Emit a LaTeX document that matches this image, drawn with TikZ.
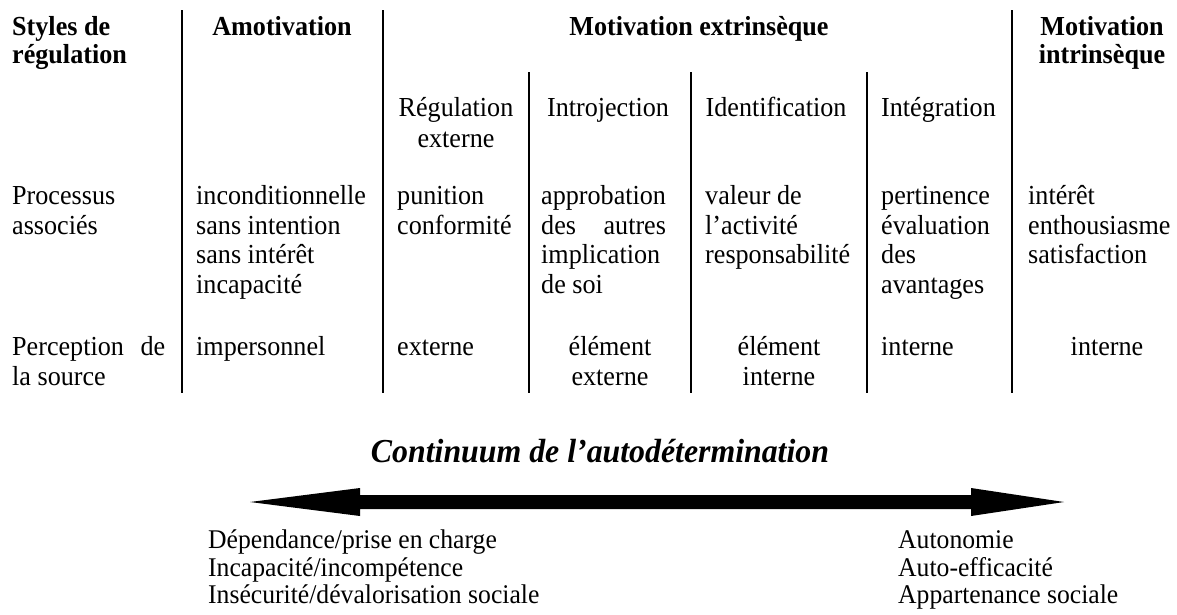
\documentclass[tikz,border=0pt]{standalone}
\usepackage{fontspec}
\setmainfont{Liberation Serif}[FakeStretch=0.95]
\usetikzlibrary{calc}
\newlength\colwd
\begin{document}
\begin{tikzpicture}[x=1pt,y=-1pt,
  txt/.style={inner sep=0pt, anchor=base west, font=\fontsize{27.5}{31}\selectfont},
  ctxt/.style={txt, anchor=base},
  head/.style={txt, font=\fontsize{27.5}{31}\selectfont\bfseries},
  chead/.style={head, anchor=base},
  low/.style={txt, font=\fontsize{27}{30}\selectfont},
  rule/.style={line width=2.6pt}]
\useasboundingbox (0,0) rectangle (1177,614);

% column rules
\foreach \x in {182,383,1012} \draw[rule] (\x,10) -- (\x,393);
\foreach \x in {529,691,867} \draw[rule] (\x,72) -- (\x,393);

% header row
\node[head] (sty1) at (12,35) {Styles de};
\node[head] (sty2) at (12,63) {régulation};
\node[chead] (amo) at (282,35) {Amotivation};
\node[chead] (mext) at (699,35) {Motivation extrinsèque};
\node[chead] (mint1) at (1102,35) {Motivation};
\node[chead] (mint2) at (1102,63) {intrinsèque};

% sub-headers of extrinsic motivation
\node[ctxt] (rex1) at (456,116) {Régulation};
\node[ctxt] (rex2) at (456,147) {externe};
\node[ctxt] (intro) at (608,116) {Introjection};
\node[ctxt] (ident) at (776,116) {Identification};
\node[txt] (integ) at (881,116) {Intégration};

% associated processes
\node[txt] (pa1) at (12,204) {Processus};
\node[txt] (pa2) at (12,234) {associés};
\node[txt] (a1) at (196,204) {inconditionnelle};
\node[txt] (a2) at (196,234) {sans intention};
\node[txt] (a3) at (196,263) {sans intérêt};
\node[txt] (a4) at (196,293) {incapacité};
\node[txt] (b1) at (397,204) {punition};
\node[txt] (b2) at (397,234) {conformité};
\node[txt] (c1) at (541,204) {approbation};
\node[txt] (c2) at (541,234) {\settowidth{\colwd}{approbation}\makebox[\colwd][s]{des autres}};
\node[txt] (c3) at (541,263) {implication};
\node[txt] (c4) at (541,293) {de soi};
\node[txt] (d1) at (705,204) {valeur de};
\node[txt] (d2) at (705,234) {l’activité};
\node[txt] (d3) at (705,263) {responsabilité};
\node[txt] (e1) at (881,204) {pertinence};
\node[txt] (e2) at (881,234) {évaluation};
\node[txt] (e3) at (881,263) {des};
\node[txt] (e4) at (881,293) {avantages};
\node[txt] (f1) at (1028,204) {intérêt};
\node[txt] (f2) at (1028,234) {enthousiasme};
\node[txt] (f3) at (1028,263) {satisfaction};

% perceived locus
\node[txt] (ps1) at (12,355) {\makebox[153pt][s]{Perception de}};
\node[txt] (ps2) at (12,385) {la source};
\node[txt] (pa) at (196,355) {impersonnel};
\node[txt] (pb) at (397,355) {externe};
\node[ctxt] (pc1) at (610,355) {élément};
\node[ctxt] (pc2) at (610,385) {externe};
\node[ctxt] (pd1) at (779,355) {élément};
\node[ctxt] (pd2) at (779,385) {interne};
\node[txt] (pe) at (881,355) {interne};
\node[ctxt] (pf) at (1107,355) {interne};

% continuum
\node[inner sep=0pt, anchor=base, font=\fontsize{33.5}{37}\selectfont\bfseries\itshape] (cont) at (600,462) {Continuum de l’autodétermination};
\coordinate (lo) at (250,502);
\coordinate (hi) at (1064,502);
\fill (lo) -- ++(110,-14) -- ++(0,7) -- ($(hi)+(-93,-7)$) -- ++(0,-7) -- (hi)
      -- ++(-93,14) -- ++(0,-7) -- ($(lo)+(110,7)$) -- ++(0,7) -- cycle;

\node[low] (l1) at (208,548) {Dépendance/prise en charge};
\node[low] (l2) at (208,576) {Incapacité/incompétence};
\node[low] (l3) at (208,603) {Insécurité/dévalorisation sociale};
\node[low] (r1) at (898,548) {Autonomie};
\node[low] (r2) at (898,576) {Auto-efficacité};
\node[low] (r3) at (898,603) {Appartenance sociale};
\end{tikzpicture}
\end{document}
